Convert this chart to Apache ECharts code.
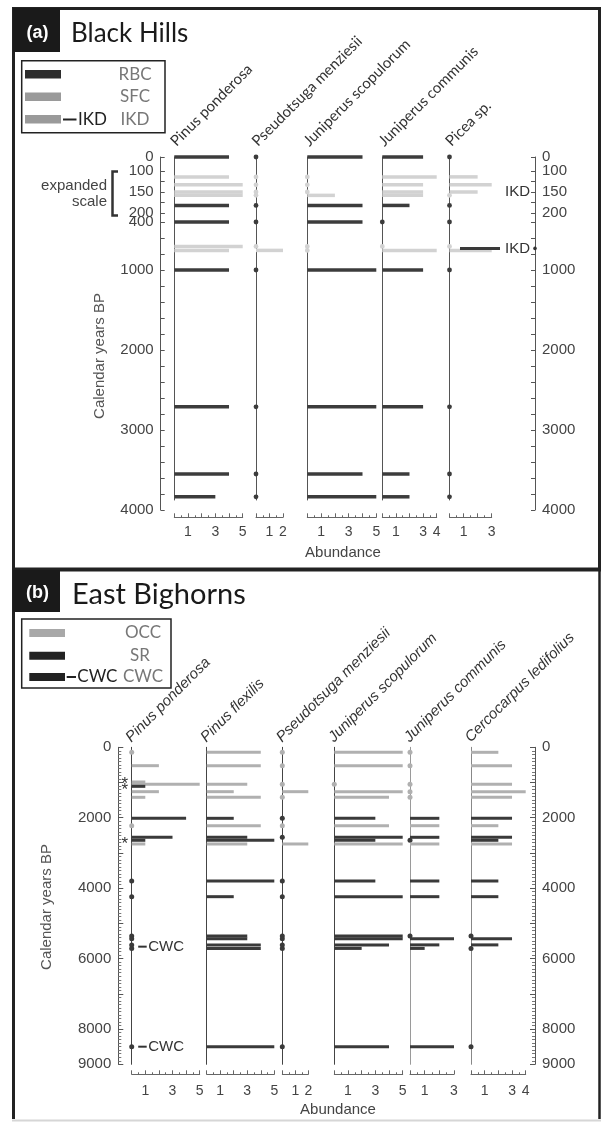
<!DOCTYPE html>
<html><head><meta charset="utf-8">
<script src="https://cdn.jsdelivr.net/npm/echarts@6.0.0/dist/echarts.min.js"></script>
<style>html,body{margin:0;padding:0;background:#fff;}#chart{width:603px;height:1122px;}</style>
</head><body><div id="chart"></div>
<script>
// ===== Panel (a) Black Hills =====
const aTaxa = ['Pinus ponderosa','Pseudotsuga menziesii','Juniperus scopulorum','Juniperus communis','Picea sp.'];
const aYears = [0, 114, 133, 150, 158, 182, 400, 705, 755, 1000, 2710, 3550, 3835];
const aTypes = ['RBC','SFC','SFC','SFC','SFC','RBC','RBC','SFC','SFC','RBC','RBC','RBC','RBC'];
const aPinusPonderosa       = [4,4,5,5,5,4,4,5,4,4,4,4,3];
const aPseudotsugaMenziesii = [0,0,0,0,0,0,0,0,2,0,0,0,0];
const aJuniperusScopulorum  = [4,0,0,0,2,4,4,0,0,5,5,4,5];
const aJuniperusCommunis    = [3,4,3,3,3,2,0,0,4,3,3,2,2];
const aPiceaSp              = [0,2,3,2,0,0,0,0,3,0,0,0,0];
const aAbundanceMax = [5,2,5,4,3];
const aAbundanceLabels = [[1,3,5],[1,2],[1,3,5],[1,3,4],[1,3]];
const aLeftTickLabels = [0,100,150,200,400,1000,2000,3000,4000];
const aRightTickLabels = [0,100,150,200,1000,2000,3000,4000];
const aIKDYears = [150, 730];

// ===== Panel (b) East Bighorns =====
const bTaxa = ['Pinus ponderosa','Pinus flexilis','Pseudotsuga menziesii','Juniperus scopulorum','Juniperus communis','Cercocarpus ledifolius'];
const bYears = [142, 522, 985, 1051, 1108, 1260, 1420, 2016, 2226, 2555, 2640, 2745, 3796, 4241, 5355, 5435, 5610, 5710, 8500];
const bTypes = ['OCC','OCC','OCC','OCC','SR','OCC','OCC','SR','OCC','SR','SR','OCC','SR','SR','SR','SR','SR','SR','SR'];
const bPinusPonderosa        = [0,2,1,5,1,2,1,4,0,3,1,1,0,0,0,0,0,0,0];
const bPinusFlexilis         = [4,4,null,3,null,2,4,2,4,3,5,3,5,2,3,3,4,4,5];
const bPseudotsugaMenziesii  = [0,0,null,0,null,2,0,0,0,0,null,2,0,0,0,0,0,0,0];
const bJuniperusScopulorum   = [5,5,null,0,null,5,4,3,4,5,3,5,3,5,5,5,4,2,4];
const bJuniperusCommunis     = [0,0,null,0,null,0,0,2,2,2,0,2,2,2,0,3,2,1,3];
const bCercocarpusLedifolius = [2,3,null,3,null,4,3,3,2,3,2,3,2,2,0,3,2,0,0];
const bAbundanceMax = [5,5,2,5,3,4];
const bAbundanceLabels = [[1,3,5],[1,3,5],[1,2],[1,3,5],[1,3],[1,3,4]];
const bYearTickLabels = [0,2000,4000,6000,8000,9000];
const bCWCYears = [5660, 8500];
const bAsteriskYears = [950, 1120, 2650];

// ===== Layout / styling =====
const SANS = 'Liberation Sans';
const typeIdx = {RBC:0, SFC:1, SR:0, OCC:1};
const aColors = ['#3c3c3c', '#d2d2d2'];
const bColors = ['#3a3a3a', '#b0b0b0'];

const grids = [], xAxes = [], yAxes = [], series = [];
function addGrid(g, x, y) {
  grids.push(Object.assign({containLabel:false}, g));
  const i = grids.length - 1;
  xAxes.push(Object.assign({gridIndex:i}, x));
  yAxes.push(Object.assign({gridIndex:i}, y));
  return i;
}
function hiddenX(max) { return {type:'value', min:0, max:max, show:false}; }
function colY(min, max, color) {
  return {type:'value', inverse:true, min, max,
    axisLine:{show:true, onZero:false, lineStyle:{color, width:1}},
    axisTick:{show:false}, axisLabel:{show:false}, splitLine:{show:false}};
}
function abundX(max, labels, offset, margin) {
  return {type:'value', position:'bottom', min:0, max, interval:1, offset,
    axisLine:{show:true, onZero:false, lineStyle:{color:'#666', width:1}},
    axisTick:{show:true, inside:true, length:4, lineStyle:{color:'#666'}},
    minorTick:{show:true, splitNumber:2, length:2, lineStyle:{color:'#666'}},
    splitLine:{show:false},
    axisLabel:{formatter: v => labels.includes(v) ? String(v) : '', fontFamily:SANS, fontSize:14, color:'#444', margin}};
}
function sideY(min, max, interval, labels, side, isLast, minor) {
  return {type:'value', inverse:true, min, max, interval, position:side,
    axisLine:{show:true, onZero:false, lineStyle:{color:'#555', width:1}},
    axisTick:{show:true, inside:true, length:4, lineStyle:{color:'#555'}},
    minorTick: minor ? {show:true, splitNumber:minor, length:2, lineStyle:{color:'#777'}} : {show:false},
    splitLine:{show:false},
    axisLabel:{formatter: v => (labels.includes(v) && v >= min && (v < max || isLast)) ? String(v) : '',
      fontFamily:SANS, fontSize:15, color:'#444', margin:7}};
}
function barRenderer(colors, h, r) {
  return function (params, api) {
    const v = api.value(0), yr = api.value(1), t = api.value(2);
    const p0 = api.coord([0, yr]);
    if (v > 0) {
      const p1 = api.coord([v, yr]);
      return {type:'rect', shape:{x:p0[0], y:p0[1]-h/2, width:p1[0]-p0[0], height:h}, style:{fill:colors[t]}};
    }
    return {type:'circle', shape:{cx:p0[0], cy:p0[1], r}, style:{fill:colors[t]}};
  };
}
function textStyle(text, font, fill, align, valign) {
  return {text, font, fill, textAlign:align, textVerticalAlign:valign, align, verticalAlign:valign};
}

// ----- Panel (a) columns: piecewise (expanded) year scale -----
const aSeriesVals = [aPinusPonderosa, aPseudotsugaMenziesii, aJuniperusScopulorum, aJuniperusCommunis, aPiceaSp];
const aColLeft = [174.3, 256, 307.3, 382.3, 449.5];
const aColWidth = [68.4, 27, 69, 54.4, 42.2];
const aSegs = [{min:0,max:100,top:157,h:14},{min:100,max:200,top:171,h:42},{min:200,max:400,top:213,h:9},{min:400,max:3875,top:222,h:278}];
const aAxisSegs = [{min:0,max:100,top:157,h:14,iv:100},{min:100,max:200,top:171,h:42,iv:25},{min:200,max:400,top:213,h:9,iv:200},{min:400,max:4000,top:222,h:288,iv:200}];
function aSegOf(yr) { return yr < 100 ? 0 : yr <= 200 ? 1 : yr < 400 ? 2 : 3; }

aSeriesVals.forEach((vals, c) => {
  aSegs.forEach((s, si) => {
    const last = si === aSegs.length - 1;
    const gi = addGrid({left:aColLeft[c], top:s.top, width:aColWidth[c], height:s.h},
      last ? abundX(aAbundanceMax[c], aAbundanceLabels[c], 17.3, 8) : hiddenX(aAbundanceMax[c]),
      colY(s.min, s.max, '#555'));
    const data = [];
    aYears.forEach((yr, r) => {
      if (aSegOf(yr) === si && vals[r] !== null) data.push([vals[r], yr, typeIdx[aTypes[r]]]);
    });
    if (data.length) series.push({type:'custom', xAxisIndex:gi, yAxisIndex:gi, encode:{x:0, y:1},
      renderItem: barRenderer(aColors, 3.5, 2.4), data, silent:true});
  });
});
// side axes (a)
const aRightGrid = [];
[['left', 160.7, aLeftTickLabels], ['right', 534, aRightTickLabels]].forEach(([side, x, labels]) => {
  aAxisSegs.forEach((s, si) => {
    const gi = addGrid({left:x, top:s.top, width:1, height:s.h}, hiddenX(1),
      sideY(s.min, s.max, s.iv, labels, side, si === aAxisSegs.length - 1, 0));
    if (side === 'right') aRightGrid.push(gi);
  });
});
// IKD annotations
aIKDYears.forEach((yr, k) => {
  const gi = aRightGrid[aSegOf(yr)];
  series.push({type:'custom', xAxisIndex:gi, yAxisIndex:gi, encode:{x:0, y:1}, silent:true,
    data:[[0, yr, k]],
    renderItem: function (params, api) {
      const p = api.coord([0, api.value(1)]);
      const ch = [{type:'text', x:p[0]-4, y:p[1], style:textStyle('IKD', '15px "Liberation Sans"', '#333', 'right', 'middle')}];
      if (api.value(2) === 1) {
        ch.push({type:'line', shape:{x1:p[0]-74, y1:p[1], x2:p[0]-34, y2:p[1]}, style:{stroke:'#3a3a3a', lineWidth:3}});
        ch.push({type:'circle', shape:{cx:p[0]+1, cy:p[1], r:1.8}, style:{fill:'#333'}});
      }
      return {type:'group', children:ch};
    }});
});

// ----- Panel (b) columns: linear year scale -----
const bSeriesVals = [bPinusPonderosa, bPinusFlexilis, bPseudotsugaMenziesii, bJuniperusScopulorum, bJuniperusCommunis, bCercocarpusLedifolius];
const bColLeft = [131.7, 206.7, 282.3, 334.3, 410, 471];
const bColWidth = [68, 67.6, 26, 68.4, 44, 54.7];
const bLineColor = ['#444','#444','#444','#444','#9a9a9a','#888'];
const bTop = 747.3, bH = 317;
const bGrid = [];
bSeriesVals.forEach((vals, c) => {
  const gi = addGrid({left:bColLeft[c], top:bTop, width:bColWidth[c], height:bH},
    abundX(bAbundanceMax[c], bAbundanceLabels[c], 10, 10), colY(0, 9000, bLineColor[c]));
  bGrid.push(gi);
  const data = [];
  bYears.forEach((yr, r) => { if (vals[r] !== null) data.push([vals[r], yr, typeIdx[bTypes[r]]]); });
  series.push({type:'custom', xAxisIndex:gi, yAxisIndex:gi, encode:{x:0, y:1},
    renderItem: barRenderer(bColors, 3, 2.5), data, silent:true});
});
[['left', 118.3], ['right', 534]].forEach(([side, x]) => {
  const y = sideY(0, 9000, 1000, bYearTickLabels, side, true, 10);
  y.axisTick.length = 5; y.minorTick.length = 3;
  addGrid({left:x, top:bTop, width:1, height:bH}, hiddenX(1), y);
});
// CWC + asterisk annotations on Pinus ponderosa (b)
series.push({type:'custom', xAxisIndex:bGrid[0], yAxisIndex:bGrid[0], encode:{x:0, y:1}, silent:true,
  data: bCWCYears.map(y => [0, y]),
  renderItem: function (params, api) {
    const p = api.coord([0, api.value(1)]);
    return {type:'group', children:[
      {type:'line', shape:{x1:p[0]+6.5, y1:p[1], x2:p[0]+15, y2:p[1]}, style:{stroke:'#333', lineWidth:2}},
      {type:'text', x:p[0]+16.5, y:p[1], style:textStyle('CWC', '15px "Liberation Sans"', '#333', 'left', 'middle')}
    ]};
  }});
series.push({type:'custom', xAxisIndex:bGrid[0], yAxisIndex:bGrid[0], encode:{x:0, y:1}, silent:true,
  data: bAsteriskYears.map(y => [0, y]),
  renderItem: function (params, api) {
    const p = api.coord([0, api.value(1)]);
    return {type:'text', x:p[0]-7, y:p[1]+4, style:textStyle('*', '17px "Liberation Sans"', '#333', 'center', 'middle')};
  }});

// ----- Decorations / text -----
const G = [];
function txt(x, y, text, font, fill, align, valign, rot) {
  G.push({type:'text', x, y, rotation:rot || 0, silent:true, style:textStyle(text, font, fill, align || 'left', valign || 'middle')});
}
function rect(x, y, w, h, fill, stroke, lw) {
  G.push({type:'rect', silent:true, shape:{x, y, width:w, height:h}, style:{fill:fill || 'none', stroke:stroke || null, lineWidth:lw || 0}});
}
function line(points, stroke, lw) {
  G.push({type:'polyline', silent:true, shape:{points}, style:{fill:'none', stroke, lineWidth:lw}});
}
// frames
line([[13.5,569],[13.5,8.5],[599.5,8.5],[599.5,569]], '#222', 3);
line([[12,569.5],[601,569.5]], '#222', 4);
line([[13.5,569],[13.5,1119]], '#222', 3);
line([[599.5,569],[599.5,1119]], '#222', 2.5);
line([[12,1120.5],[601,1120.5]], '#d6d6d6', 2);
// panel labels
rect(13, 8, 47, 44, '#1a1a1a');
txt(37.5, 33, '(a)', 'bold 18px "Liberation Sans"', '#fff', 'center', 'middle');
txt(71, 34, 'Black Hills', '26px Lato', '#1a1a1a', 'left', 'middle');
rect(13, 570, 47, 42, '#1a1a1a');
txt(37.5, 593, '(b)', 'bold 18px "Liberation Sans"', '#fff', 'center', 'middle');
txt(72, 595, 'East Bighorns', '29px Lato', '#1a1a1a', 'left', 'middle');
// legend (a)
rect(21.7, 60.7, 143.3, 72, 'none', '#222', 1.5);
rect(25, 70, 36, 8.5, '#2d2d2d');
rect(25, 92.5, 36, 8.5, '#9a9a9a');
rect(25, 115, 36, 8.5, '#9a9a9a');
line([[63,119.5],[76.5,119.5]], '#222', 2);
txt(78, 119.5, 'IKD', '17px Lato', '#222', 'left', 'middle');
txt(135, 75, 'RBC', '17px Lato', '#777', 'center', 'middle');
txt(135, 97, 'SFC', '17px Lato', '#777', 'center', 'middle');
txt(135, 119.5, 'IKD', '17px Lato', '#777', 'center', 'middle');
// legend (b)
rect(21.7, 619, 149.3, 69, 'none', '#222', 1.5);
rect(29.3, 629, 35.7, 8, '#a8a8a8');
rect(29.3, 651.7, 35.7, 8, '#222');
rect(29.3, 673, 35.7, 8, '#222');
line([[66.7,677],[76,677]], '#222', 2);
txt(77.3, 677, 'CWC', '17px Lato', '#222', 'left', 'middle');
txt(143, 632.5, 'OCC', '17px Lato', '#777', 'center', 'middle');
txt(140, 655.5, 'SR', '17px Lato', '#777', 'center', 'middle');
txt(143, 677, 'CWC', '17px Lato', '#777', 'center', 'middle');
// expanded scale bracket
line([[118,171.5],[112.5,171.5],[112.5,215.5],[118,215.5]], '#333', 2.5);
txt(107, 185.5, 'expanded', '15px "Liberation Sans"', '#444', 'right', 'middle');
txt(107, 201.5, 'scale', '15px "Liberation Sans"', '#444', 'right', 'middle');
// axis titles
txt(100, 356, 'Calendar years BP', '15px "Liberation Sans"', '#555', 'center', 'middle', Math.PI/2);
txt(47, 907, 'Calendar years BP', '15px "Liberation Sans"', '#555', 'center', 'middle', Math.PI/2);
txt(343, 553, 'Abundance', '15px "Liberation Sans"', '#444', 'center', 'middle');
txt(338, 1110, 'Abundance', '15px "Liberation Sans"', '#444', 'center', 'middle');
// taxon names
aTaxa.forEach((name, i) => txt(aColLeft[i] + 4, 149, name, '15px Lato', '#333', 'left', 'bottom', Math.PI/4));
bTaxa.forEach((name, i) => txt(bColLeft[i] + 2, 745, name, 'italic 15px "Liberation Sans"', '#333', 'left', 'bottom', Math.PI/4));

const chart = echarts.init(document.getElementById('chart'), null, {renderer:'canvas'});
chart.setOption({
  animation:false,
  backgroundColor:'#ffffff',
  textStyle:{fontFamily:SANS},
  grid:grids, xAxis:xAxes, yAxis:yAxes, series,
  graphic:{elements:G}
});
</script></body></html>
